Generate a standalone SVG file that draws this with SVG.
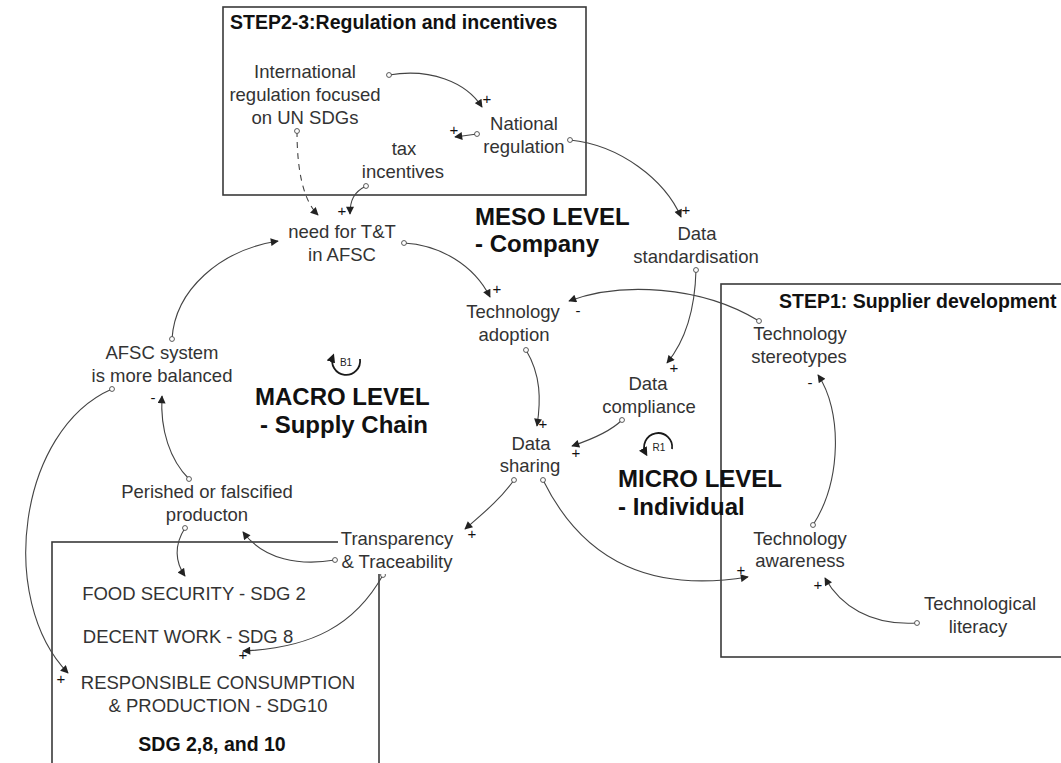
<svg xmlns="http://www.w3.org/2000/svg" width="1061" height="763" viewBox="0 0 1061 763">
  <style>
    .bg { fill: #ffffff; }
    .frame { fill: none; stroke: #3a3a3a; stroke-width: 1.6; }
    .node { font-family: "Liberation Sans", Arial, sans-serif; font-size: 18.5px; fill: #333333; text-anchor: middle; }
    .title { font-family: "Liberation Sans", Arial, sans-serif; font-size: 19.5px; font-weight: bold; fill: #111111; }
    .level { font-family: "Liberation Sans", Arial, sans-serif; font-size: 24px; font-weight: bold; fill: #111111; }
    .sign { font-family: "Liberation Sans", Arial, sans-serif; font-size: 15px; fill: #111111; text-anchor: middle; }
    .loop { font-family: "Liberation Sans", Arial, sans-serif; font-size: 10px; fill: #222222; text-anchor: middle; }
    .link { fill: none; stroke: #444444; stroke-width: 1.1; marker-start: url(#dot); marker-end: url(#arrow); }
    .dashed { stroke-dasharray: 6 5; }
    .loopArc { fill: none; stroke: #1a1a1a; stroke-width: 1.8; marker-end: url(#loopArrow); }
  </style>
  <defs>
    <marker id="arrow" viewBox="0 0 10 10" refX="9" refY="5" markerWidth="9" markerHeight="8" markerUnits="userSpaceOnUse" orient="auto">
      <path d="M0,0 L10,5 L0,10 Z" fill="#222222"/>
    </marker>
    <marker id="loopArrow" viewBox="0 0 10 10" refX="7" refY="5" markerWidth="9" markerHeight="9" markerUnits="userSpaceOnUse" orient="auto">
      <path d="M0,0 L10,5 L0,10 Z" fill="#1a1a1a"/>
    </marker>
    <marker id="dot" viewBox="0 0 8 8" refX="4" refY="4" markerWidth="7" markerHeight="7" markerUnits="userSpaceOnUse">
      <circle cx="4" cy="4" r="2.8" fill="#ffffff" stroke="#444444" stroke-width="1"/>
    </marker>
  </defs>

  <rect class="bg" x="0" y="0" width="1061" height="763"/>

  <!-- Frames for the three intervention areas -->
  <g id="frames">
    <rect class="frame" x="223" y="7" width="363" height="188"/>
    <rect class="frame" x="721" y="284" width="350" height="373"/>
    <rect class="frame" x="52" y="542" width="327" height="240"/>
  </g>

  <!-- Causal links -->
  <g id="connectors">
    <path class="link" d="M389,75 C430,68 466,82 482,107"/>
    <path class="link" d="M477,134 L455,137"/>
    <path class="link dashed" d="M297,131 C297,170 303,200 318,215"/>
    <path class="link" d="M366,186 C354,192 350,200 350,214"/>
    <path class="link" d="M570,140 C620,145 665,180 681,217"/>
    <path class="link" d="M404,243 C440,245 474,265 490,297"/>
    <path class="link" d="M759,321 C700,285 620,282 569,301"/>
    <path class="link" d="M696,270 C695,310 686,340 667,363"/>
    <path class="link" d="M526,350 C541,375 541,400 537,426"/>
    <path class="link" d="M622,420 C610,432 590,440 572,446"/>
    <path class="link" d="M514,480 C500,500 481,515 465,529"/>
    <path class="link" d="M543,480 C585,565 655,592 748,577"/>
    <path class="link" d="M917,623 C870,626 840,605 825,578"/>
    <path class="link" d="M813,525 C842,480 842,410 818,375"/>
    <path class="link" d="M335,560 C300,566 264,560 243,532"/>
    <path class="link" d="M185,528 C174,545 175,562 185,576"/>
    <path class="link" d="M383,575 C355,625 312,648 243,651"/>
    <path class="link" d="M112,389 C18,430 -3,600 68,673"/>
    <path class="link" d="M189,479 C170,460 160,430 162,396"/>
    <path class="link" d="M172,339 C175,290 220,250 278,241"/>
  </g>

  <!-- Link polarities -->
  <g id="polarities">
    <text class="sign" x="487" y="104">+</text>
    <text class="sign" x="454" y="135">+</text>
    <text class="sign" x="342" y="216">+</text>
    <text class="sign" x="686" y="215">+</text>
    <text class="sign" x="497" y="294">+</text>
    <text class="sign" x="578" y="316">-</text>
    <text class="sign" x="674" y="373">+</text>
    <text class="sign" x="543" y="429">+</text>
    <text class="sign" x="576" y="458">+</text>
    <text class="sign" x="472" y="539">+</text>
    <text class="sign" x="741" y="575">+</text>
    <text class="sign" x="818" y="590">+</text>
    <text class="sign" x="810" y="388">-</text>
    <text class="sign" x="243" y="660">+</text>
    <text class="sign" x="61" y="684">+</text>
    <text class="sign" x="153" y="403">-</text>
  </g>

  <!-- Loop markers -->
  <g id="loop-B1">
    <path class="loopArc" d="M360,359 A14,14 0 1 1 333,356"/>
    <text class="loop" x="346" y="366">B1</text>
  </g>
  <g id="loop-R1">
    <path class="loopArc" d="M672,449 A14,14 0 1 0 646,454"/>
    <text class="loop" x="659" y="451">R1</text>
  </g>

  <!-- Titles and level labels -->
  <g id="title-step23"><text class="title" x="230" y="29">STEP2-3:Regulation and incentives</text></g>
  <g id="title-step1"><text class="title" x="779" y="308">STEP1: Supplier development</text></g>
  <g id="title-sdg"><text class="title" x="212" y="751" text-anchor="middle">SDG 2,8, and 10</text></g>
  <g id="level-meso">
    <text class="level" x="475" y="225">MESO LEVEL</text>
    <text class="level" x="475" y="252">- Company</text>
  </g>
  <g id="level-macro">
    <text class="level" x="255" y="405">MACRO LEVEL</text>
    <text class="level" x="260" y="433">- Supply Chain</text>
  </g>
  <g id="level-micro">
    <text class="level" x="618" y="487">MICRO LEVEL</text>
    <text class="level" x="618" y="515">- Individual</text>
  </g>

  <!-- Variables -->
  <g id="international-regulation">
    <text class="node" x="305" y="78">International</text>
    <text class="node" x="305" y="101">regulation focused</text>
    <text class="node" x="305" y="124">on UN SDGs</text>
  </g>
  <g id="national-regulation">
    <text class="node" x="524" y="130">National</text>
    <text class="node" x="524" y="153">regulation</text>
  </g>
  <g id="tax-incentives">
    <text class="node" x="404" y="155">tax</text>
    <text class="node" x="403" y="178">incentives</text>
  </g>
  <g id="need-for-tt">
    <text class="node" x="342" y="238">need for T&amp;T</text>
    <text class="node" x="342" y="261">in AFSC</text>
  </g>
  <g id="data-standardisation">
    <text class="node" x="697" y="240">Data</text>
    <text class="node" x="696" y="263">standardisation</text>
  </g>
  <g id="technology-adoption">
    <text class="node" x="513" y="318">Technology</text>
    <text class="node" x="514" y="341">adoption</text>
  </g>
  <g id="data-compliance">
    <text class="node" x="648" y="390">Data</text>
    <text class="node" x="649" y="413">compliance</text>
  </g>
  <g id="data-sharing">
    <text class="node" x="531" y="450">Data</text>
    <text class="node" x="530" y="472">sharing</text>
  </g>
  <g id="afsc-balanced">
    <text class="node" x="162" y="359">AFSC system</text>
    <text class="node" x="162" y="382">is more balanced</text>
  </g>
  <g id="perished-production">
    <text class="node" x="207" y="498">Perished or falscified</text>
    <text class="node" x="207" y="521">producton</text>
  </g>
  <g id="transparency-traceability">
    <rect class="bg" x="338" y="527" width="120" height="47"/>
    <text class="node" x="397" y="545">Transparency</text>
    <text class="node" x="397" y="568">&amp; Traceability</text>
  </g>
  <g id="food-security"><text class="node" x="194" y="600">FOOD SECURITY - SDG 2</text></g>
  <g id="decent-work"><text class="node" x="188" y="643">DECENT WORK - SDG 8</text></g>
  <g id="responsible-consumption">
    <text class="node" x="218" y="689">RESPONSIBLE CONSUMPTION</text>
    <text class="node" x="218" y="712">&amp; PRODUCTION - SDG10</text>
  </g>
  <g id="technology-stereotypes">
    <text class="node" x="800" y="340">Technology</text>
    <text class="node" x="799" y="363">stereotypes</text>
  </g>
  <g id="technology-awareness">
    <text class="node" x="800" y="545">Technology</text>
    <text class="node" x="800" y="567">awareness</text>
  </g>
  <g id="technological-literacy">
    <text class="node" x="980" y="610">Technological</text>
    <text class="node" x="978" y="633">literacy</text>
  </g>
</svg>
